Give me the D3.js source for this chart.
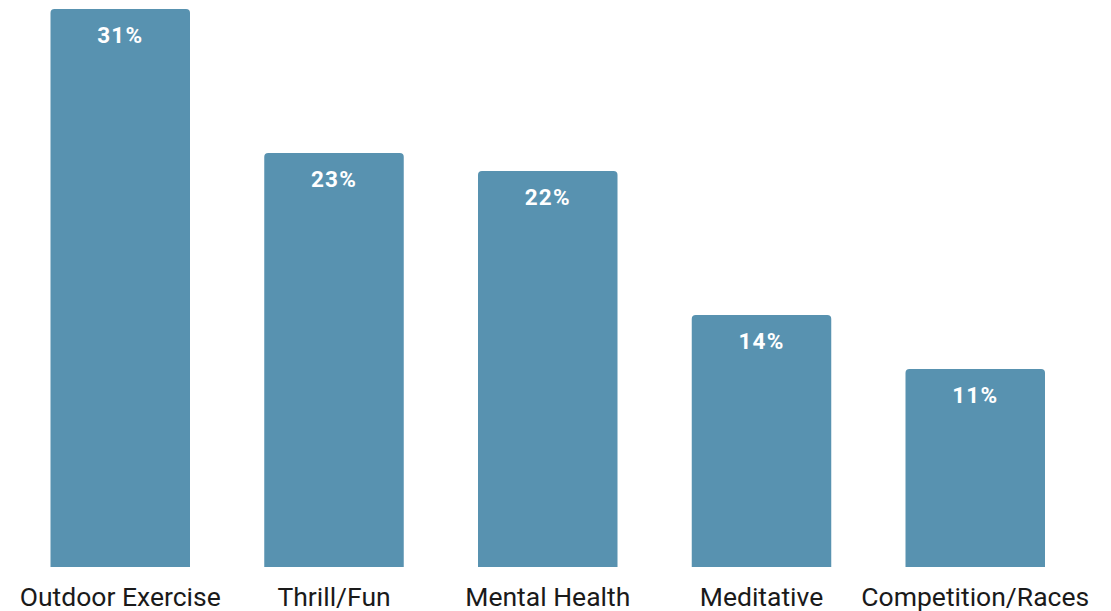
<!DOCTYPE html>
<html><head><meta charset="utf-8">
<script src="https://cdn.jsdelivr.net/npm/d3@7"></script>
<style>body{margin:0;background:#fff}svg{display:block}</style>
</head><body><svg id="c" width="1111" height="611"></svg>
<script>
const categories = ["Outdoor Exercise","Thrill/Fun","Mental Health","Meditative","Competition/Races"];
const values = [31,23,22,14,11];
const valueLabels = ["31%","23%","22%","14%","11%"];

const svg=d3.select("#c");
const step=213.75, bw=139.5;
const x=d3.scaleBand().domain(categories)
  .range([50.5, 50.5+step*4+bw]).paddingInner(1-bw/step).paddingOuter(0);
const y=d3.scaleLinear().domain([0,31]).range([567,9]);
const r=4;
const g=svg.append("g");
categories.forEach((c,i)=>{
  const x0=x(c), w=x.bandwidth(), y0=y(values[i]), y1=y(0);
  g.append("path").attr("fill","#5892b0")
   .attr("d",`M${x0},${y1}V${y0+r}Q${x0},${y0} ${x0+r},${y0}H${x0+w-r}Q${x0+w},${y0} ${x0+w},${y0+r}V${y1}Z`);
  g.append("text").attr("x",x0+w/2).attr("y",y0+34).attr("text-anchor","middle")
   .attr("fill","#fff").attr("font-family","Roboto").attr("font-weight","bold")
   .attr("font-size",22.5).attr("letter-spacing","1.2px").text(valueLabels[i]);
});
const ax=svg.append("g").attr("transform",`translate(0,${567})`).call(d3.axisBottom(x).tickSize(0).tickPadding(0));
ax.select(".domain").remove();
ax.selectAll("text").attr("font-family","Roboto").attr("font-size",26.5).attr("fill","#1a1a1a").attr("dy",null).attr("y",39);
</script></body></html>
